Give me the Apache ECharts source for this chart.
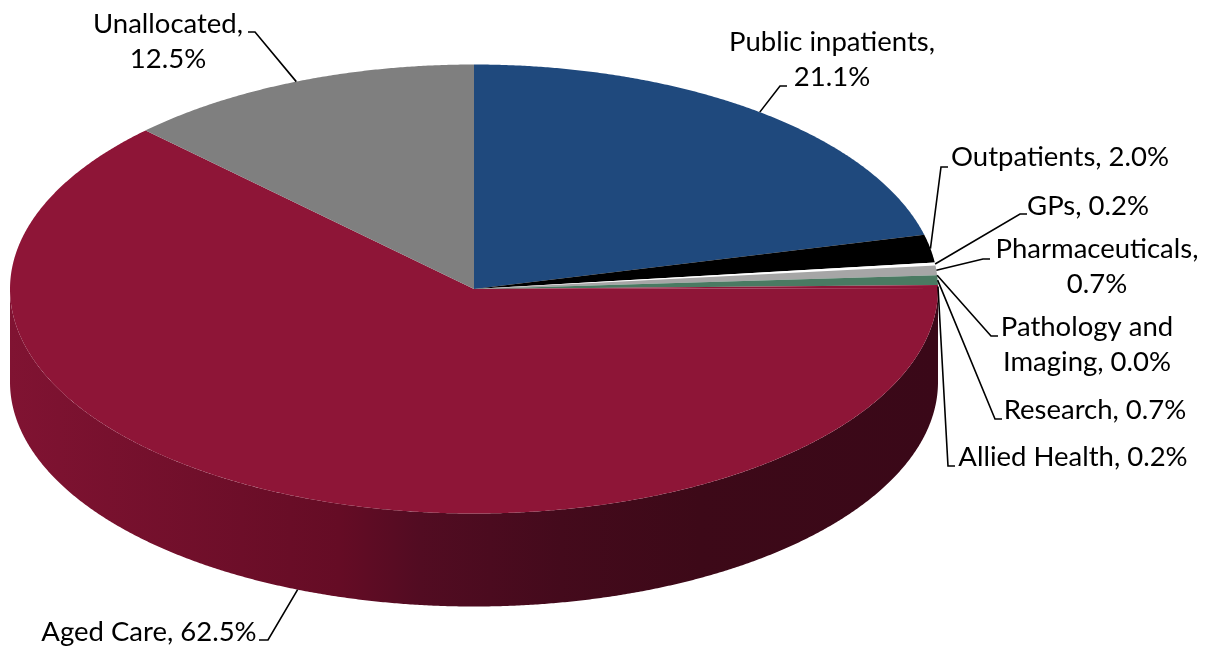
<!DOCTYPE html>
<html><head><meta charset="utf-8">
<style>html,body{margin:0;padding:0;background:#fff}#c{width:1223px;height:653px}</style>
<script src="https://cdn.jsdelivr.net/npm/echarts@6/dist/echarts.min.js"></script>
</head><body><div id="c"></div>
<script>
var categories = ['Public inpatients','Outpatients','GPs','Pharmaceuticals','Pathology and\nImaging','Research','Allied Health','Aged Care','Unallocated'];
var shareValues = [21.1,2.0,0.2,0.7,0.0,0.7,0.2,62.5,12.5];
var valueOnNewLine = [true,false,false,true,false,false,false,false,true];
var sliceColors = ['#1F497D','#000000','#FFFFFF','#A6A6A6','#C0504D','#4A7A62','#8E1537','#8E1537','#7F7F7F'];
// label layout: text centre, leader knee, leader end
var labelCentres = [[832,60],[1060,157],[1088,206],[1097,267],[1087,345],[1095,410],[1073,457],[149,632],[168,42]];
var leaderKnees = [[780,86],[941,167],[1020,214],[983,259],[991,336],[995,419],[948,466],[268,640],[255,32]];
var leaderEnds = [[787,86],[948,167],[1027,214],[990,259],[998,336],[1002,419],[955,466],[259,640],[248,32]];

var CX=474, CY=289, RX=464, RY=224.5, DEPTH=93;
var total = shareValues.reduce(function(a,b){return a+b;},0);
var cum = [0];
shareValues.forEach(function(v,i){cum.push(cum[i]+v);});
function ang(v){return echarts.number.linearMap(v,[0,total],[0,Math.PI*2]);}
function pt(a,dy){return [CX+RX*Math.sin(a),CY-RY*Math.cos(a)+(dy||0)];}
function arc(a0,a1,dy){var n=Math.max(2,Math.ceil((a1-a0)/0.005)),r=[];for(var i=0;i<=n;i++){r.push(pt(a0+(a1-a0)*i/n,dy));}return r;}
var wallFill={type:'linear',global:true,x:10,y:0,x2:938,y2:0,colorStops:[
 {offset:0,color:'#801332'},{offset:0.355,color:'#650C25'},{offset:0.442,color:'#520C22'},{offset:0.593,color:'#440A1C'},{offset:0.744,color:'#3D0918'},{offset:1,color:'#3A0818'}]};

function renderItem(params,api){
  var i=params.dataIndex, v=api.value(0);
  var a0=ang(cum[i]), a1=a0+ang(v), kids=[];
  var w0=Math.max(a0,Math.PI/2), w1=Math.min(a1,Math.PI*1.5);
  if(w1>w0){
    var top=arc(w0,w1,0), bot=arc(w0,w1,DEPTH).reverse();
    kids.push({type:'polygon',z2:1,shape:{points:top.concat(bot)},style:{fill:wallFill}});
  }
  if(a1>a0){
    kids.push({type:'polygon',z2:2,shape:{points:[[CX,CY]].concat(arc(a0,a1,0))},style:{fill:sliceColors[i]}});
  }
  var mid=(a0+a1)/2, visibleWall=mid>Math.PI/2&&mid<Math.PI*1.5&&v>5;
  kids.push({type:'polyline',z2:3,shape:{points:[pt(mid,visibleWall?DEPTH:0),leaderKnees[i],leaderEnds[i]]},style:{fill:null,stroke:'#000',lineWidth:1.6}});
  var txt=categories[i]+','+(valueOnNewLine[i]?'\n':' ')+v.toFixed(1)+'%';
  kids.push({type:'text',z2:4,style:{text:txt,x:labelCentres[i][0],y:labelCentres[i][1],align:'center',verticalAlign:'middle',fontFamily:'Lato',fontSize:27.5,lineHeight:35,fill:'#000'}});
  return {type:'group',children:kids};
}
var chart=echarts.init(document.getElementById('c'),null,{renderer:'canvas'});
chart.setOption({animation:false,backgroundColor:'#fff',series:[{type:'custom',coordinateSystem:'none',clip:false,renderItem:renderItem,data:shareValues.map(function(v,i){return {name:categories[i],value:[v]};})}]});
</script></body></html>
